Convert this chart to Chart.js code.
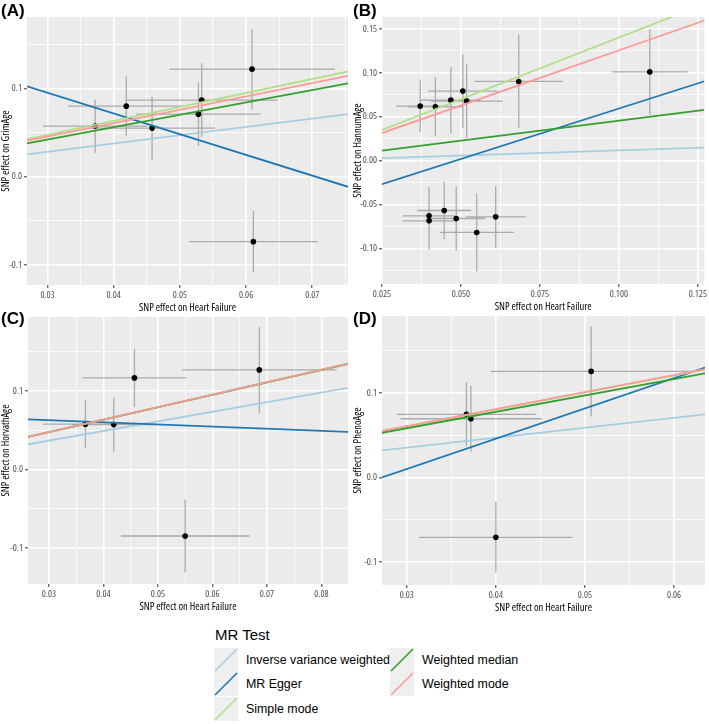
<!DOCTYPE html>
<html>
<head>
<meta charset="utf-8">
<script src="https://cdn.jsdelivr.net/npm/chart.js@4.4.1/dist/chart.umd.min.js"></script>
<style>
  html, body { margin:0; padding:0; background:#ffffff; }
  body { width:709px; height:724px; position:relative; overflow:hidden; font-family:'Liberation Sans', Arial, sans-serif; }
  canvas { position:absolute; }
  .plab { position:absolute; font-weight:bold; font-size:17px; line-height:17px; color:#000; }
  .legtitle { position:absolute; font-size:15px; line-height:15px; color:#000; }
  .legitem { position:absolute; height:24px; font-size:12.4px; line-height:24px; color:#000; white-space:nowrap; }
  .legitem svg { position:absolute; left:0; top:0; }
  .legitem span { position:absolute; left:32px; top:0; }
</style>
</head>
<body>
<canvas id="cA" width="352" height="317" style="left:0px;top:0px"></canvas>
<canvas id="cB" width="357" height="316" style="left:352px;top:0px"></canvas>
<canvas id="cC" width="352" height="316" style="left:0px;top:300px"></canvas>
<canvas id="cD" width="357" height="317" style="left:352px;top:300px"></canvas>
<div class="plab" style="left:1px;top:2px">(A)</div>
<div class="plab" style="left:353px;top:2px">(B)</div>
<div class="plab" style="left:1px;top:310px">(C)</div>
<div class="plab" style="left:353px;top:310px">(D)</div>
<div class="legtitle" style="left:215px;top:627px">MR Test</div>
<div id="legend"></div>
<script>
// ---------- methods ----------
const methods = ['Inverse variance weighted', 'MR Egger', 'Simple mode', 'Weighted median', 'Weighted mode'];
const methodColors = ['#A6CEE3', '#1F78B4', '#B2DF8A', '#33A02C', '#FB9A99'];

// ---------- Panel A : GrimAge ----------
const grimX    = [0.0372, 0.0419, 0.0458, 0.0528, 0.0533, 0.0609, 0.0611];
const grimXse  = [0.0079, 0.0088, 0.0095, 0.0094, 0.0115, 0.0125, 0.0097];
const grimY    = [0.0574, 0.0800, 0.0551, 0.0709, 0.0868, 0.1219, -0.0736];
const grimYse  = [0.0302, 0.0336, 0.0355, 0.0362, 0.0417, 0.0455, 0.0347];
const grimSlope     = [0.940, -2.348, 1.582, 1.403, 1.517];
const grimIntercept = [0, 0.1656, 0, 0, 0];
const grimXTicks = [0.03, 0.04, 0.05, 0.06, 0.07];
const grimXLabels = ['0.03', '0.04', '0.05', '0.06', '0.07'];
const grimYTicks = [-0.1, 0.0, 0.1];
const grimYLabels = ['-0.1', '0.0', '0.1'];

// ---------- Panel B : HannumAge ----------
const hannumX   = [0.0371, 0.0419, 0.0468, 0.0506, 0.0518, 0.0683, 0.1098, 0.0399, 0.0399, 0.0447, 0.0485, 0.0550, 0.0610];
const hannumXse = [0.0076, 0.0085, 0.0095, 0.0110, 0.0113, 0.0140, 0.0120, 0.0083, 0.0083, 0.0085, 0.0091, 0.0117, 0.0095];
const hannumY   = [0.0621, 0.0614, 0.0689, 0.0792, 0.0678, 0.0902, 0.1011, -0.0629, -0.0686, -0.0568, -0.0659, -0.0818, -0.0640];
const hannumYse = [0.0299, 0.0337, 0.0377, 0.0417, 0.0420, 0.0534, 0.0489, 0.0330, 0.0330, 0.0328, 0.0367, 0.0445, 0.0350];
const hannumSlope     = [0.117, 1.149, 1.402, 0.455, 1.256];
const hannumIntercept = [0, -0.0556, 0, 0, 0];
const hannumXTicks = [0.025, 0.050, 0.075, 0.100, 0.125];
const hannumXLabels = ['0.025', '0.050', '0.075', '0.100', '0.125'];
const hannumYTicks = [-0.10, -0.05, 0.00, 0.05, 0.10, 0.15];
const hannumYLabels = ['-0.10', '-0.05', '0.00', '0.05', '0.10', '0.15'];

// ---------- Panel C : HorvathAge ----------
const horvathX   = [0.0367, 0.0419, 0.0457, 0.0550, 0.0686];
const horvathXse = [0.0078, 0.0078, 0.0095, 0.0118, 0.0142];
const horvathY   = [0.0576, 0.0572, 0.1165, -0.0847, 0.1267];
const horvathYse = [0.0307, 0.0343, 0.0367, 0.0464, 0.0547];
const horvathSlope     = [1.223, -0.2675, 1.585, 1.583, 1.587];
const horvathIntercept = [0, 0.0706, 0, 0, 0];
const horvathXTicks = [0.03, 0.04, 0.05, 0.06, 0.07, 0.08];
const horvathXLabels = ['0.03', '0.04', '0.05', '0.06', '0.07', '0.08'];
const horvathYTicks = [-0.1, 0.0, 0.1];
const horvathYLabels = ['-0.1', '0.0', '0.1'];

// ---------- Panel D : PhenoAge ----------
const phenoX   = [0.0367, 0.0372, 0.0400, 0.0507];
const phenoXse = [0.0078, 0.0079, 0.0086, 0.0113];
const phenoY   = [0.0746, 0.0694, -0.0710, 0.1254];
const phenoYse = [0.0379, 0.0389, 0.0420, 0.0533];
const phenoSlope     = [1.175, 3.580, 2.010, 1.939, 2.020];
const phenoIntercept = [0, -0.0974, 0, 0, 0];
const phenoXTicks = [0.03, 0.04, 0.05, 0.06];
const phenoXLabels = ['0.03', '0.04', '0.05', '0.06'];
const phenoYTicks = [-0.1, 0.0, 0.1];
const phenoYLabels = ['-0.1', '0.0', '0.1'];

const xTitle = 'SNP effect on Heart Failure';

// ---------- helpers ----------
const narrowFont = "'Open Sans', 'DejaVu Sans Condensed', sans-serif";

const bgPlugin = {
  id: 'ggbg',
  beforeDraw(chart) {
    const a = chart.chartArea, c = chart.ctx;
    c.save();
    c.fillStyle = '#EBEBEB';
    c.fillRect(a.left, a.top, a.right - a.left, a.bottom - a.top);
    c.restore();
  }
};

function withMinor(majors, min, max) {
  const step = majors[1] - majors[0];
  const out = [];
  const start = majors[0] - step;
  for (let k = 0; k < majors.length + 2; k++) {
    const m = start + k * step;
    [m, m + step / 2].forEach(v => { if (v >= min - 1e-9 && v <= max + 1e-9) out.push(v); });
  }
  return out.sort((a, b) => a - b);
}
function majorIndex(majors, v) {
  for (let i = 0; i < majors.length; i++) if (Math.abs(majors[i] - v) < 1e-9) return i;
  return -1;
}

function axis(opts) {
  const { majors, labels, min, max, title, isX, size, titlePad } = opts;
  const all = withMinor(majors, min, max);
  return {
    type: 'linear',
    min, max,
    position: isX ? 'bottom' : 'left',
    border: { display: false },
    afterBuildTicks: s => { s.ticks = all.map(v => ({ value: v })); },
    afterFit: s => { if (isX) s.height = size; else s.width = size; },
    grid: {
      color: '#FFFFFF',
      lineWidth: c => (c.tick && majorIndex(majors, c.tick.value) >= 0) ? 1.6 : 0.8,
      drawTicks: true,
      tickLength: 3,
      tickWidth: 1,
      tickColor: c => (c.tick && majorIndex(majors, c.tick.value) >= 0) ? '#333333' : 'rgba(0,0,0,0)'
    },
    ticks: {
      autoSkip: false,
      maxRotation: 0,
      minRotation: 0,
      padding: 2,
      color: '#4D4D4D',
      font: { family: narrowFont, size: 9.5, weight: 'condensed' },
      callback: v => { const i = majorIndex(majors, v); return i >= 0 ? labels[i] : ''; }
    },
    title: {
      display: true,
      text: title,
      color: '#000000',
      font: { family: narrowFont, size: 10.5, weight: 'condensed' },
      padding: titlePad
    }
  };
}

function makePanel(id, p) {
  const vErr = [], hErr = [], pts = [];
  for (let i = 0; i < p.x.length; i++) {
    vErr.push({ x: p.x[i], y: p.y[i] - p.yse[i] }, { x: p.x[i], y: p.y[i] + p.yse[i] }, { x: p.x[i], y: null });
    hErr.push({ x: p.x[i] - p.xse[i], y: p.y[i] }, { x: p.x[i] + p.xse[i], y: p.y[i] }, { x: p.x[i], y: null });
    pts.push({ x: p.x[i], y: p.y[i] });
  }
  const datasets = [];
  datasets.push({ label: 'vErr', data: vErr, showLine: true, spanGaps: false, borderColor: '#ABABAB', borderWidth: 1.3, pointRadius: 0, order: 30, clip: 0 });
  datasets.push({ label: 'hErr', data: hErr, showLine: true, spanGaps: false, borderColor: '#ABABAB', borderWidth: 1.3, pointRadius: 0, order: 29, clip: 0 });
  datasets.push({ label: 'SNPs', data: pts, showLine: false, pointRadius: 2.8, pointBackgroundColor: '#000000', pointBorderColor: '#000000', pointBorderWidth: 0, order: 20 });
  methods.forEach((m, k) => {
    const a = p.icpt[k], b = p.slope[k];
    datasets.push({
      label: m,
      data: [{ x: p.xmin, y: a + b * p.xmin }, { x: p.xmax, y: a + b * p.xmax }],
      showLine: true, borderColor: methodColors[k], backgroundColor: methodColors[k],
      borderWidth: 1.8, pointRadius: 0, order: 10 - k, clip: 0
    });
  });
  new Chart(document.getElementById(id), {
    type: 'scatter',
    data: { datasets },
    options: {
      responsive: false,
      devicePixelRatio: 1,
      animation: false,
      layout: { padding: p.pad },
      plugins: { legend: { display: false }, tooltip: { enabled: false } },
      scales: {
        x: axis({ majors: p.xt, labels: p.xl, min: p.xmin, max: p.xmax, title: xTitle, isX: true, size: 32, titlePad: { top: 0, bottom: 3 } }),
        y: axis({ majors: p.yt, labels: p.yl, min: p.ymin, max: p.ymax, title: p.ytitle, isX: false, size: 30 - p.yShift, titlePad: { top: 0, bottom: 1 } })
      }
    },
    plugins: [bgPlugin]
  });
}

makePanel('cA', { x: grimX, xse: grimXse, y: grimY, yse: grimYse, slope: grimSlope, icpt: grimIntercept,
  xt: grimXTicks, xl: grimXLabels, yt: grimYTicks, yl: grimYLabels,
  xmin: 0.0269, xmax: 0.0754, ymin: -0.1227, ymax: 0.181, ytitle: 'SNP effect on GrimAge',
  pad: { top: 17, right: 3, left: 0, bottom: 0 }, yShift: 3 });
makePanel('cB', { x: hannumX, xse: hannumXse, y: hannumY, yse: hannumYse, slope: hannumSlope, icpt: hannumIntercept,
  xt: hannumXTicks, xl: hannumXLabels, yt: hannumYTicks, yl: hannumYLabels,
  xmin: 0.025, xmax: 0.1271, ymin: -0.1405, ymax: 0.1636, ytitle: 'SNP effect on HannumAge',
  pad: { top: 17, right: 0, left: 0, bottom: 0 }, yShift: 0 });
makePanel('cC', { x: horvathX, xse: horvathXse, y: horvathY, yse: horvathYse, slope: horvathSlope, icpt: horvathIntercept,
  xt: horvathXTicks, xl: horvathXLabels, yt: horvathYTicks, yl: horvathYLabels,
  xmin: 0.02617, xmax: 0.08487, ymin: -0.1458, ymax: 0.194, ytitle: 'SNP effect on HorvathAge',
  pad: { top: 17, right: 2, left: 0, bottom: 0 }, yShift: 2 });
makePanel('cD', { x: phenoX, xse: phenoXse, y: phenoY, yse: phenoYse, slope: phenoSlope, icpt: phenoIntercept,
  xt: phenoXTicks, xl: phenoXLabels, yt: phenoYTicks, yl: phenoYLabels,
  xmin: 0.02722, xmax: 0.06348, ymin: -0.1274, ymax: 0.191, ytitle: 'SNP effect on PhenoAge',
  pad: { top: 16, right: 0, left: 0, bottom: 0 }, yShift: 0 });

// ---------- legend ----------
const legendCols = [[0, 1, 2], [3, 4]];
const legendColX = [214, 390];
const legendTop = 648, legendRowH = 24.3;
const leg = document.getElementById('legend');
legendCols.forEach((col, ci) => {
  col.forEach((k, ri) => {
    const d = document.createElement('div');
    d.className = 'legitem';
    d.style.left = legendColX[ci] + 'px';
    d.style.top = (legendTop + ri * legendRowH) + 'px';
    d.innerHTML = '<svg width="24" height="24"><rect x="0" y="0" width="24" height="24" fill="#EFEFEF"/>' +
      '<line x1="1" y1="23" x2="23" y2="1" stroke="' + methodColors[k] + '" stroke-width="1.6"/></svg>' +
      '<span>' + methods[k] + '</span>';
    leg.appendChild(d);
  });
});
</script>
</body>
</html>
